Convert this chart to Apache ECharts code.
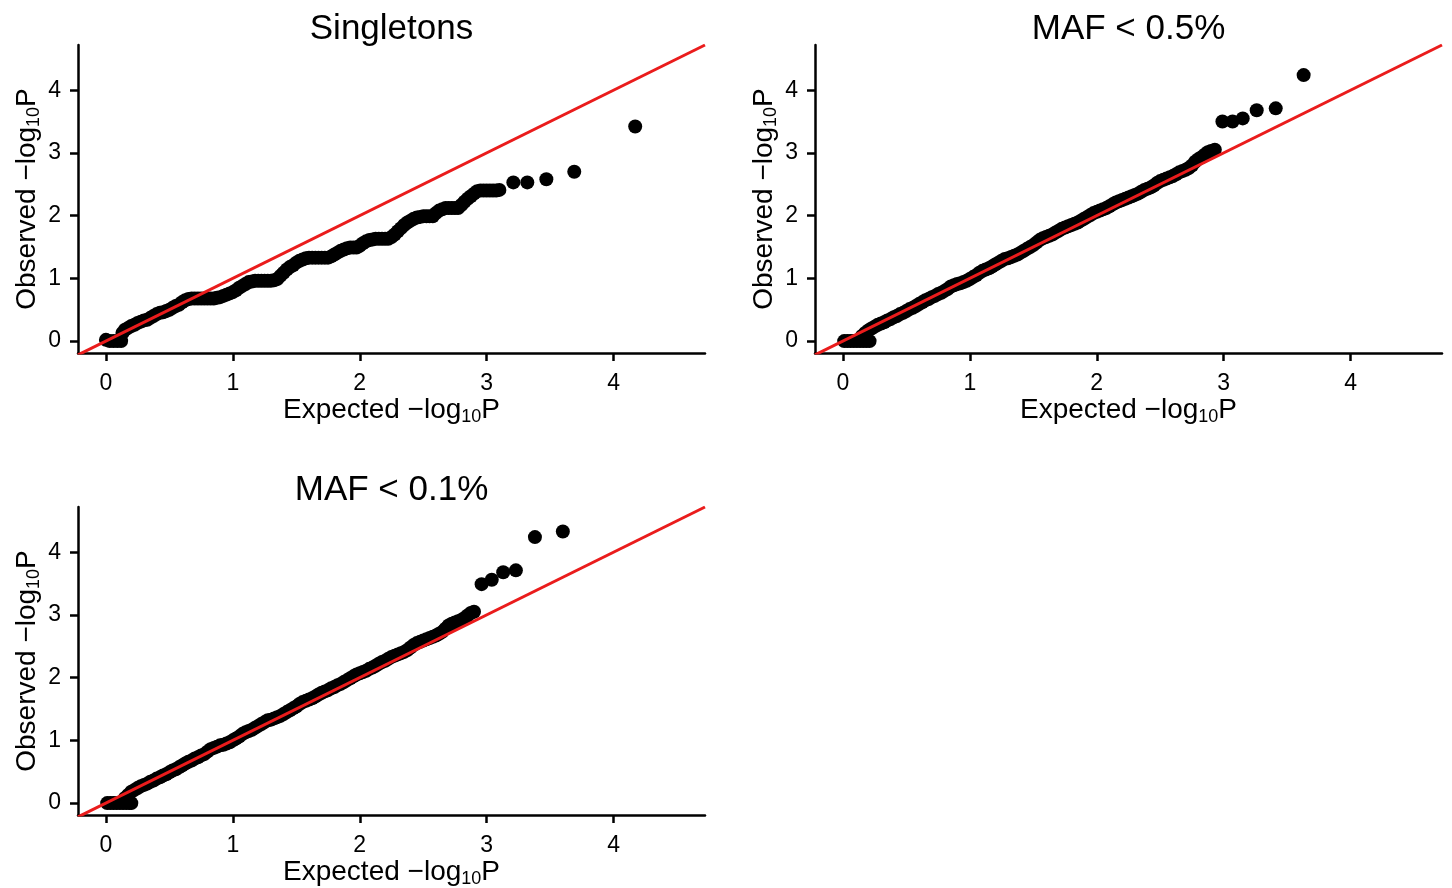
<!DOCTYPE html>
<html>
<head>
<meta charset="utf-8">
<script src="https://cdn.jsdelivr.net/npm/echarts@6/dist/echarts.min.js"></script>
<style>
  html, body { margin: 0; padding: 0; background: #fff; }
  #chart { width: 1452px; height: 888px; }
</style>
</head>
<body>
<div id="chart"></div>
<script>
// QQ plots of association p-values: expected vs observed -log10 P

const panelTitles = ['Singletons', 'MAF < 0.5%', 'MAF < 0.1%'];
const xTicks = [0, 1, 2, 3, 4];
const yTicks = [0, 1, 2, 3, 4];
const xRange = [-0.22, 4.72];
const yRange = [-0.19, 4.72];

// [expected, observed]
const singletons = [
  [0.00, 0.02], [0.03, 0.00], [0.06, 0.00], [0.09, 0.00], [0.12, 0.00],
  [0.13, 0.13], [0.15, 0.18], [0.175, 0.21], [0.20, 0.24], [0.225, 0.26],
  [0.25, 0.29], [0.275, 0.31], [0.30, 0.33], [0.325, 0.34], [0.35, 0.37],
  [0.375, 0.40], [0.40, 0.43], [0.425, 0.45], [0.45, 0.46], [0.475, 0.48],
  [0.50, 0.50], [0.525, 0.53], [0.55, 0.56], [0.575, 0.58], [0.60, 0.62],
  [0.625, 0.65], [0.65, 0.67], [0.675, 0.68], [0.70, 0.68], [0.725, 0.68],
  [0.75, 0.68], [0.775, 0.68], [0.80, 0.68], [0.825, 0.68], [0.85, 0.68],
  [0.875, 0.69], [0.90, 0.70], [0.925, 0.72], [0.95, 0.74], [0.975, 0.76],
  [1.00, 0.78], [1.025, 0.81], [1.05, 0.85], [1.075, 0.88], [1.10, 0.91],
  [1.125, 0.94], [1.15, 0.95], [1.175, 0.96], [1.20, 0.96], [1.225, 0.96],
  [1.25, 0.96], [1.275, 0.96], [1.30, 0.96], [1.325, 0.97], [1.35, 0.99],
  [1.375, 1.04], [1.40, 1.09], [1.425, 1.14], [1.45, 1.18], [1.475, 1.21],
  [1.50, 1.25], [1.525, 1.28], [1.55, 1.30], [1.575, 1.32], [1.60, 1.33],
  [1.625, 1.33], [1.65, 1.33], [1.675, 1.33], [1.70, 1.33], [1.725, 1.33],
  [1.75, 1.33], [1.775, 1.35], [1.80, 1.38], [1.825, 1.41], [1.85, 1.44],
  [1.875, 1.46], [1.90, 1.48], [1.925, 1.49], [1.95, 1.49], [1.975, 1.49],
  [2.00, 1.52], [2.025, 1.56], [2.05, 1.59], [2.075, 1.61], [2.10, 1.62],
  [2.125, 1.63], [2.15, 1.63], [2.175, 1.63], [2.20, 1.63], [2.225, 1.63],
  [2.25, 1.66], [2.275, 1.70], [2.30, 1.75], [2.325, 1.80], [2.35, 1.85],
  [2.375, 1.89], [2.40, 1.92], [2.425, 1.95], [2.45, 1.97], [2.475, 1.98],
  [2.50, 1.99], [2.525, 1.99], [2.55, 1.99], [2.575, 1.99], [2.60, 2.04],
  [2.625, 2.08], [2.65, 2.10], [2.675, 2.12], [2.70, 2.12], [2.725, 2.12],
  [2.75, 2.12], [2.775, 2.12], [2.80, 2.17], [2.825, 2.22], [2.85, 2.27],
  [2.875, 2.31], [2.90, 2.35], [2.925, 2.39], [2.95, 2.40], [2.975, 2.40],
  [3.00, 2.40], [3.025, 2.40], [3.05, 2.40], [3.075, 2.40], [3.10, 2.41],
  [3.21, 2.53], [3.32, 2.53], [3.47, 2.58], [3.69, 2.70], [4.17, 3.42]
];

const maf05 = [
  [0.01, 0.00], [0.035, 0.00], [0.06, 0.00], [0.085, 0.00], [0.11, 0.00],
  [0.135, 0.00], [0.16, 0.00], [0.185, 0.00], [0.21, 0.00],
  [0.15, 0.08], [0.175, 0.13], [0.20, 0.17], [0.225, 0.20], [0.25, 0.23],
  [0.275, 0.26], [0.30, 0.28], [0.325, 0.30], [0.35, 0.33], [0.375, 0.35],
  [0.40, 0.38], [0.425, 0.40], [0.45, 0.43], [0.475, 0.45], [0.50, 0.48],
  [0.525, 0.51], [0.55, 0.53], [0.575, 0.56], [0.60, 0.59], [0.625, 0.62],
  [0.65, 0.65], [0.675, 0.67], [0.70, 0.70], [0.725, 0.72], [0.75, 0.75],
  [0.775, 0.77], [0.80, 0.80], [0.825, 0.83], [0.85, 0.87], [0.875, 0.89],
  [0.90, 0.91], [0.925, 0.92], [0.95, 0.94], [0.975, 0.96], [1.00, 0.99],
  [1.025, 1.02], [1.05, 1.05], [1.075, 1.09], [1.10, 1.12], [1.125, 1.14],
  [1.15, 1.16], [1.175, 1.19], [1.20, 1.22], [1.225, 1.25], [1.25, 1.28],
  [1.275, 1.31], [1.30, 1.32], [1.325, 1.34], [1.35, 1.36], [1.375, 1.38],
  [1.40, 1.41], [1.425, 1.44], [1.45, 1.47], [1.475, 1.50], [1.50, 1.53],
  [1.525, 1.57], [1.55, 1.61], [1.575, 1.64], [1.60, 1.66], [1.625, 1.68],
  [1.65, 1.70], [1.675, 1.73], [1.70, 1.76], [1.725, 1.79], [1.75, 1.81],
  [1.775, 1.83], [1.80, 1.85], [1.825, 1.87], [1.85, 1.89], [1.875, 1.92],
  [1.90, 1.95], [1.925, 1.98], [1.95, 2.01], [1.975, 2.04], [2.00, 2.06],
  [2.025, 2.08], [2.05, 2.10], [2.075, 2.12], [2.10, 2.15], [2.125, 2.18],
  [2.15, 2.21], [2.175, 2.23], [2.20, 2.25], [2.225, 2.27], [2.25, 2.29],
  [2.275, 2.31], [2.30, 2.33], [2.325, 2.35], [2.35, 2.38], [2.375, 2.41],
  [2.40, 2.43], [2.425, 2.45], [2.45, 2.48], [2.475, 2.52], [2.50, 2.55],
  [2.525, 2.57], [2.55, 2.59], [2.575, 2.61], [2.60, 2.63], [2.625, 2.66],
  [2.65, 2.69], [2.675, 2.71], [2.70, 2.73], [2.725, 2.76], [2.75, 2.80],
  [2.775, 2.86], [2.80, 2.90], [2.825, 2.93], [2.85, 2.97], [2.875, 3.01],
  [2.90, 3.03], [2.93, 3.05],
  [2.99, 3.50], [3.07, 3.50], [3.15, 3.55], [3.26, 3.68], [3.41, 3.71],
  [3.63, 4.24]
];

const maf01 = [
  [0.01, 0.00], [0.035, 0.00], [0.06, 0.00], [0.085, 0.00], [0.11, 0.00],
  [0.135, 0.00], [0.16, 0.00], [0.185, 0.00], [0.20, 0.00],
  [0.15, 0.08], [0.175, 0.13], [0.20, 0.18], [0.225, 0.21], [0.25, 0.24],
  [0.275, 0.27], [0.30, 0.29], [0.325, 0.31], [0.35, 0.34], [0.375, 0.36],
  [0.40, 0.39], [0.425, 0.41], [0.45, 0.44], [0.475, 0.46], [0.50, 0.49],
  [0.525, 0.52], [0.55, 0.54], [0.575, 0.57], [0.60, 0.60], [0.625, 0.63],
  [0.65, 0.66], [0.675, 0.68], [0.70, 0.71], [0.725, 0.73], [0.75, 0.76],
  [0.775, 0.78], [0.80, 0.82], [0.825, 0.86], [0.85, 0.88], [0.875, 0.90],
  [0.90, 0.92], [0.925, 0.93], [0.95, 0.95], [0.975, 0.97], [1.00, 1.00],
  [1.025, 1.03], [1.05, 1.06], [1.075, 1.10], [1.10, 1.13], [1.125, 1.15],
  [1.15, 1.17], [1.175, 1.20], [1.20, 1.23], [1.225, 1.26], [1.25, 1.29],
  [1.275, 1.32], [1.30, 1.33], [1.325, 1.35], [1.35, 1.37], [1.375, 1.39],
  [1.40, 1.42], [1.425, 1.45], [1.45, 1.48], [1.475, 1.51], [1.50, 1.54],
  [1.525, 1.58], [1.55, 1.61], [1.575, 1.63], [1.60, 1.65], [1.625, 1.67],
  [1.65, 1.70], [1.675, 1.73], [1.70, 1.76], [1.725, 1.78], [1.75, 1.80],
  [1.775, 1.83], [1.80, 1.85], [1.825, 1.88], [1.85, 1.90], [1.875, 1.93],
  [1.90, 1.96], [1.925, 1.99], [1.95, 2.02], [1.975, 2.05], [2.00, 2.07],
  [2.025, 2.09], [2.05, 2.11], [2.075, 2.14], [2.10, 2.16], [2.125, 2.19],
  [2.15, 2.22], [2.175, 2.25], [2.20, 2.27], [2.225, 2.30], [2.25, 2.33],
  [2.275, 2.35], [2.30, 2.37], [2.325, 2.39], [2.35, 2.41], [2.375, 2.44],
  [2.40, 2.48], [2.425, 2.52], [2.45, 2.55], [2.475, 2.57], [2.50, 2.59],
  [2.525, 2.61], [2.55, 2.63], [2.575, 2.65], [2.60, 2.67], [2.625, 2.70],
  [2.65, 2.73], [2.675, 2.78], [2.70, 2.83], [2.725, 2.86], [2.75, 2.88],
  [2.775, 2.90], [2.80, 2.92], [2.825, 2.95], [2.85, 2.99], [2.875, 3.03],
  [2.90, 3.05],
  [2.96, 3.49], [3.04, 3.56], [3.13, 3.68], [3.23, 3.71], [3.38, 4.24],
  [3.60, 4.33]
];

// y = x reference line across the plotting range
const identityLine = [[-0.22, -0.22], [4.72, 4.72]];

const panelData = [singletons, maf05, maf01];

const FONT = '"Liberation Sans", Arial, Helvetica, sans-serif';
const gridBoxes = [
  { left: 78, top: 45, width: 627, height: 308 },
  { left: 815, top: 45, width: 627, height: 308 },
  { left: 78, top: 507, width: 627, height: 308 }
];
const titleTops = [12, 12, 473];

const nameRich = {
  m: { fontSize: 28, fontFamily: FONT, color: '#000', lineHeight: 32 },
  s: { fontSize: 18, fontFamily: FONT, color: '#000', lineHeight: 10, verticalAlign: 'bottom' }
};

const axisCommon = {
  axisLine: { show: true, onZero: false, lineStyle: { color: '#000', width: 2.5 } },
  axisTick: { show: true, inside: false, length: 8, lineStyle: { color: '#000', width: 2.5 } },
  splitLine: { show: false },
  nameLocation: 'middle',
  nameTextStyle: { rich: nameRich }
};

const grid = [], xAxis = [], yAxis = [], series = [], title = [];

panelData.forEach((pts, i) => {
  const g = gridBoxes[i];
  grid.push(Object.assign({ outerBoundsMode: 'none', containLabel: false }, g));
  title.push({
    text: panelTitles[i],
    left: g.left + g.width / 2,
    top: titleTops[i],
    textAlign: 'center',
    padding: 0,
    textStyle: { fontSize: 35, fontWeight: 'normal', fontFamily: FONT, color: '#000' }
  });
  xAxis.push(Object.assign({}, axisCommon, {
    type: 'value', gridIndex: i, min: xRange[0], max: xRange[1],
    name: '{m|Expected −log}{s|10}{m|P}',
    nameGap: 39,
    axisTick: Object.assign({}, axisCommon.axisTick, { customValues: xTicks }),
    axisLabel: { customValues: xTicks, fontSize: 23, fontFamily: FONT, color: '#000', margin: 19 }
  }));
  yAxis.push(Object.assign({}, axisCommon, {
    type: 'value', gridIndex: i, min: yRange[0], max: yRange[1],
    name: '{m|Observed −log}{s|10}{m|P}',
    nameGap: 35,
    axisTick: Object.assign({}, axisCommon.axisTick, { customValues: yTicks }),
    axisLabel: { customValues: yTicks, fontSize: 23, fontFamily: FONT, color: '#000', margin: 17 }
  }));
  series.push({
    type: 'scatter', xAxisIndex: i, yAxisIndex: i, data: pts,
    symbol: 'circle', symbolSize: 14,
    itemStyle: { color: '#000', opacity: 1 },
    z: 2, silent: true
  });
  series.push({
    type: 'line', xAxisIndex: i, yAxisIndex: i, data: identityLine,
    showSymbol: false, symbol: 'none', clip: true,
    lineStyle: { color: '#ea1c1c', width: 3 },
    z: 3, silent: true
  });
});

const chart = echarts.init(document.getElementById('chart'), null, { renderer: 'canvas' });
chart.setOption({
  animation: false,
  backgroundColor: '#fff',
  title, grid, xAxis, yAxis, series
});
</script>
</body>
</html>
